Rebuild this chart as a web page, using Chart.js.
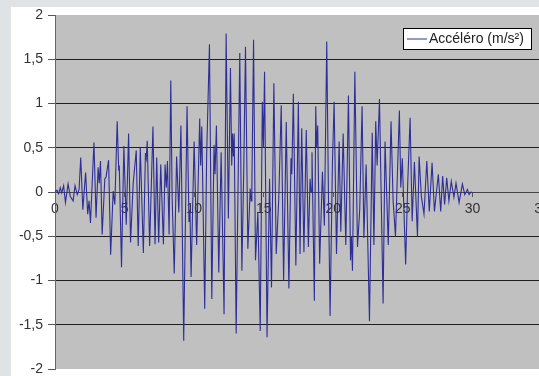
<!DOCTYPE html>
<html>
<head>
<meta charset="utf-8">
<script src="https://cdn.jsdelivr.net/npm/chart.js@4.4.1/dist/chart.umd.min.js"></script>
<style>
    html, body { margin: 0; padding: 0; overflow: hidden; background: #dfe3e6; width: 539px; height: 376px; }
    #panel { position: absolute; left: 11px; top: 7px; width: 560px; height: 369px; background: #ffffff; }
</style>
</head>
<body>
<div id="panel"><canvas id="accelChart" width="560" height="369"></canvas></div>
<script>
const seriesLabel = 'Accéléro (m/s²)';
const xTicks = [0, 5, 10, 15, 20, 25, 30, 35];
const yTicks = [-2, -1.5, -1, -0.5, 0, 0.5, 1, 1.5, 2];

// time (s) and acceleration values
const times = [
    0, 0.14, 0.26, 0.38, 0.48, 0.62, 0.75, 0.94, 1.1, 1.3,
    1.44, 1.6, 1.73, 1.85, 2.0, 2.2, 2.35, 2.45, 2.55, 2.8,
    2.95, 3.1, 3.18, 3.27, 3.39, 3.58, 3.67, 3.85, 4.0, 4.18,
    4.3, 4.47, 4.58, 4.62, 4.78, 4.95, 5.12, 5.29, 5.43, 5.62,
    5.84, 5.98, 6.13, 6.35, 6.5, 6.56, 6.63, 6.8, 7.04, 7.19,
    7.31, 7.45, 7.6, 7.79, 7.91, 8.0, 8.08, 8.2, 8.32, 8.42,
    8.57, 8.74, 8.9, 9.05, 9.25, 9.49, 9.63, 9.7, 9.78, 10.0,
    10.18, 10.4, 10.47, 10.55, 10.76, 10.9, 11.1, 11.27, 11.43, 11.5,
    11.6, 11.77, 11.94, 12.15, 12.3, 12.46, 12.61, 12.7, 12.76, 12.82,
    12.88, 13.02, 13.28, 13.43, 13.57, 13.69, 13.86, 14.03, 14.1, 14.15,
    14.27, 14.41, 14.58, 14.75, 14.9, 14.98, 15.06, 15.24, 15.42, 15.56,
    15.73, 15.9, 16.08, 16.26, 16.43, 16.62, 16.81, 16.96, 17.02, 17.13,
    17.31, 17.49, 17.61, 17.73, 17.89, 18.06, 18.21, 18.33, 18.4, 18.47,
    18.64, 18.74, 18.8, 18.88, 19.02, 19.22, 19.36, 19.53, 19.65, 19.77,
    19.94, 20.06, 20.23, 20.42, 20.54, 20.71, 20.9, 21.09, 21.24, 21.3,
    21.38, 21.55, 21.74, 21.9, 22.07, 22.2, 22.36, 22.6, 22.8, 22.92,
    23.05, 23.15, 23.32, 23.58, 23.72, 23.95, 24.15, 24.3, 24.47, 24.75,
    24.85, 24.96, 25.2, 25.35, 25.52, 25.67, 25.83, 26.05, 26.17, 26.33,
    26.52, 26.72, 26.9, 27.1, 27.27, 27.55, 27.72, 27.86, 28.0, 28.15,
    28.31, 28.48, 28.67, 28.82, 29.04, 29.28, 29.45, 29.64, 29.76, 29.9,
    30.0
];
const accel = [
    0, 0.02, -0.02, 0.05, -0.01, 0.07, -0.12, 0.09, -0.05, -0.1,
    0.07, -0.03, 0.03, 0.39, -0.2, 0.22, -0.25, -0.1, -0.35, 0.56,
    -0.29, 0.28, 0.1, 0.35, -0.48, 0.15, 0.17, 0.36, -0.71, 0.01,
    -0.14, 0.8, 0.24, 0.3, -0.85, 0.52, -0.37, 0.66, -0.57, 0.1,
    0.47, -0.61, 0.5, -0.69, 0.44, 0.38, 0.58, -0.61, 0.74, -0.59,
    0.39, -0.57, 0.31, -0.59, 0.31, 0.05, 0.35, -0.48, 1.26, -0.07,
    -0.92, 0.4, -0.23, 0.75, -1.68, 0.97, -0.34, -0.2, -0.96, 0.57,
    -0.6, 0.83, 0.3, 0.74, -1.32, 0.42, 1.67, -1.21, 0.53, 0.2,
    0.75, -0.91, 0.45, -1.38, 1.79, -0.3, 1.4, 0.3, 0.66, 0.4,
    0.66, -1.6, 1.57, -0.89, 0.3, 1.64, -0.64, 0.04, -0.1, 0.08,
    1.72, -0.77, -0.23, -1.57, 1.02, 0.5, 1.36, -1.64, 0.15, -1.08,
    1.23, -0.7, -0.08, 0.98, -1.0, 0.79, -1.09, 0.38, 0.2, 1.11,
    -0.83, 1.02, -0.7, 0.72, -0.68, 0.7, -0.62, 0.15, 0.0, 0.45,
    -1.23, 0.97, 0.5, 0.75, -0.81, 0.23, -0.38, 1.7, 0.0, -1.4,
    0.34, 1.02, -0.7, 0.57, -0.45, 0.66, -0.6, 1.09, -0.77, -0.5,
    -0.89, 1.36, -0.62, -0.2, 0.97, -0.52, 0.31, -1.46, 0.67, -0.6,
    0.8, 0.3, 1.05, -1.26, 0.57, -0.6, 0.8, -0.1, -0.5, 0.92,
    0.05, 0.38, -0.82, 0.1, 0.84, -0.33, 0.34, -0.5, 0.4, -0.05,
    -0.25, 0.35, -0.22, 0.33, -0.22, 0.2, -0.22, 0.18, -0.14, 0.16,
    -0.1, 0.12, -0.06, 0.1, -0.12, 0.09, -0.03, 0.03, -0.03, 0.0,
    -0.01
];

const lineColor = '#2e2e96';
const fontFamily = '"Liberation Sans", Arial, sans-serif';

const plotBackground = {
    id: 'plotBackground',
    beforeDraw(chart) {
        const { ctx, chartArea: a } = chart;
        ctx.save();
        ctx.fillStyle = '#c0c0c0';
        ctx.fillRect(a.left, a.top, a.right - a.left, a.bottom - a.top);
        ctx.restore();
    }
};

// Excel style legend box sitting inside the plot area, top right
const boxLegend = {
    id: 'boxLegend',
    afterDraw(chart) {
        const { ctx, chartArea: a } = chart;
        const ds = chart.data.datasets[0];
        ctx.save();
        ctx.font = '14px ' + fontFamily;
        const textW = ctx.measureText(ds.label).width;
        const w = Math.round(textW + 33), h = 21;
        const x = a.right - 11 - w, y = a.top + 13;
        ctx.fillStyle = '#ffffff';
        ctx.fillRect(x, y, w, h);
        ctx.strokeStyle = '#000000';
        ctx.lineWidth = 1;
        ctx.strokeRect(x + 0.5, y + 0.5, w, h);
        ctx.strokeStyle = ds.borderColor;
        ctx.beginPath();
        ctx.moveTo(x + 4, y + h / 2 + 0.5);
        ctx.lineTo(x + 24, y + h / 2 + 0.5);
        ctx.stroke();
        ctx.fillStyle = '#222';
        ctx.textBaseline = 'middle';
        ctx.fillText(ds.label, x + 26, y + h / 2 + 1);
        ctx.restore();
    }
};

new Chart(document.getElementById('accelChart'), {
    type: 'line',
    data: {
        datasets: [{
            label: seriesLabel,
            data: times.map((t, i) => ({ x: t, y: accel[i] })),
            borderColor: lineColor,
            borderWidth: 1.1,
            pointRadius: 0,
            tension: 0,
            fill: false
        }]
    },
    options: {
        responsive: false,
        animation: false,
        devicePixelRatio: 1,
        layout: { padding: { top: 8, right: 29, bottom: 7, left: 0 } },
        plugins: { legend: { display: false }, tooltip: { enabled: false } },
        scales: {
            x: {
                type: 'linear',
                position: { y: 0 },
                min: 0,
                max: 35,
                afterBuildTicks: (scale) => { scale.ticks = xTicks.map(v => ({ value: v })); },
                afterFit: (scale) => { scale.paddingLeft = 0; scale.paddingRight = 0; },
                grid: { display: true, drawOnChartArea: false, drawTicks: true, tickLength: 4, tickColor: '#555' },
                border: { color: '#444', width: 1 },
                ticks: { color: '#333', font: { family: fontFamily, size: 14 }, padding: 5, maxRotation: 0 }
            },
            y: {
                min: -2,
                max: 2,
                afterBuildTicks: (scale) => { scale.ticks = yTicks.map(v => ({ value: v })); },
                afterFit: (scale) => { scale.width = 44; scale.paddingTop = 0; scale.paddingBottom = 0; },
                grid: {
                    color: (c) => (c.tick && Math.abs(c.tick.value) === 2) ? 'rgba(0,0,0,0)' : '#1e1e1e',
                    tickColor: '#555',
                    tickLength: 7
                },
                border: { color: '#666', width: 1 },
                ticks: {
                    color: '#333',
                    font: { family: fontFamily, size: 14 },
                    padding: 5,
                    callback: (v) => String(v).replace('.', ',')
                }
            }
        }
    },
    plugins: [plotBackground, boxLegend]
});
</script>
</body>
</html>
